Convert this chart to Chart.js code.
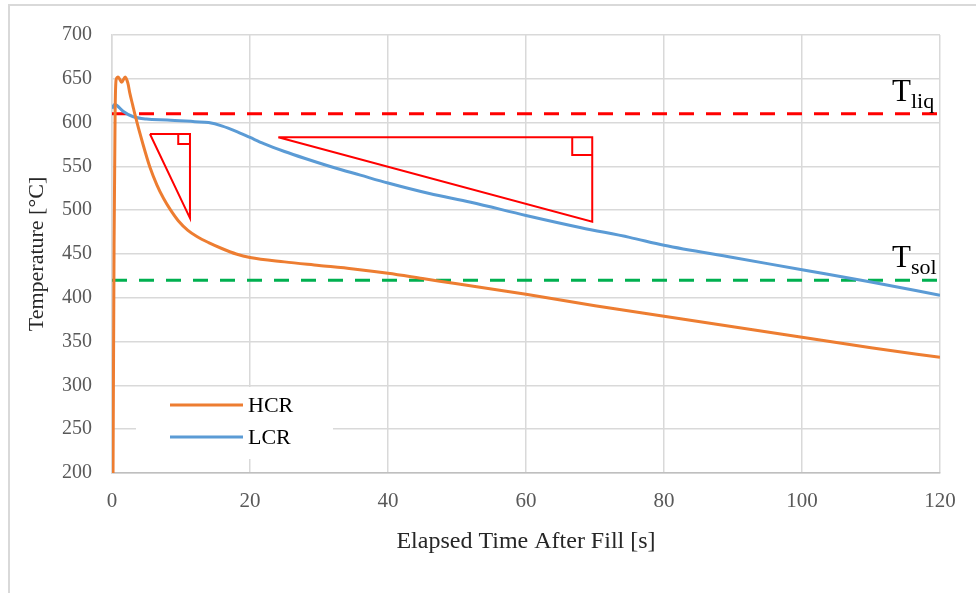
<!DOCTYPE html>
<html>
<head>
<meta charset="utf-8">
<script src="https://cdn.jsdelivr.net/npm/chart.js@4"></script>
<style>
  body { margin: 0; overflow: hidden; background: #fff; }
  #moldura { position: absolute; left: 8px; top: 4px; width: 1200px; height: 900px; border: 2px solid #d9d9d9; }
  #grafico { position: absolute; left: 0; top: 0; }
</style>
</head>
<body>
<div id="moldura"></div>
<canvas id="grafico" width="976" height="593"></canvas>
<script>
// series
var hcr_tempo = [0.15, 0.3, 0.45, 0.6, 0.9, 1.4, 1.9, 2.3, 2.6, 3.0, 3.3, 4.5, 5.5, 6.5, 7.5, 8.5, 9.6, 11, 12.3, 14, 16, 18, 20, 25, 30, 35, 40, 45, 50, 60, 70, 80, 90, 100, 110, 120]
var hcr_temp = [200, 460, 610, 649, 652, 646, 652, 645, 633, 620, 610, 575, 549, 529, 513, 500, 488, 477, 470, 463, 456, 450, 446, 441, 437, 433, 428, 422, 416, 404, 391, 379, 367, 355, 343, 332]

var lcr_tempo = [0, 0.4, 0.8, 1.6, 3, 5, 8, 12, 14, 16, 18, 20, 22, 25, 28, 32, 36, 40, 46, 52, 60, 68, 75, 80, 90, 100, 110, 120]
var lcr_temp = [616, 621, 619, 613, 607, 604, 603, 601, 600, 596, 590, 583, 576, 567, 559, 549, 540, 531, 519, 509, 494, 480, 469, 460, 446, 432, 418, 403]

// liquidus / solidus
var t_liq = 610
var t_sol = 420
var x_limites = [0, 120]

// slope triangles
var tri1_x = [5.5, 11.3, 11.3, 5.5]
var tri1_y = [587, 587, 491, 587]
var quad1_x = [9.6, 9.6, 11.3]
var quad1_y = [587, 575.6, 575.6]
var tri2_x = [24.1, 69.6, 69.6, 24.1]
var tri2_y = [583.2, 583.2, 486.9, 583.2]
var quad2_x = [66.7, 66.7, 69.6]
var quad2_y = [583.2, 563, 563]

function pares(xs, ys){
    var out = []
    for(let i = 0; i < xs.length; i++){
        out.push({x: xs[i], y: ys[i]})
    }
    return out
}

var FONTE = "'Liberation Serif', 'Times New Roman', serif"

function linha_anot(xs, ys, cor, tracejado){
    return {
        label: '',
        data: pares(xs, ys),
        borderColor: cor,
        borderWidth: tracejado ? 3 : 2,
        borderDash: tracejado ? [15, 12] : [],
        pointRadius: 0,
        tension: 0,
        order: 3
    }
}

const legenda_caixa = {
    id: 'legenda_caixa',
    afterDraw(chart){
        const ctx = chart.ctx
        const area = chart.chartArea
        ctx.save()
        ctx.fillStyle = '#ffffff'
        ctx.fillRect(area.left + 24, area.bottom - 86, 197, 72)
        const itens = [chart.data.datasets[0], chart.data.datasets[1]]
        ctx.font = "22px " + FONTE
        ctx.textBaseline = 'middle'
        itens.forEach(function(ds, i){
            let y = area.bottom - 68 + i * 32
            ctx.strokeStyle = ds.borderColor
            ctx.lineWidth = 3
            ctx.beginPath()
            ctx.moveTo(area.left + 58, y)
            ctx.lineTo(area.left + 131, y)
            ctx.stroke()
            ctx.fillStyle = '#000000'
            ctx.fillText(ds.label, area.left + 136, y + 1)
        })

        // T_liq, T_sol
        const xs = chart.scales.x
        const ys = chart.scales.y
        const rotulos = [[t_liq, 'liq'], [t_sol, 'sol']]
        rotulos.forEach(function(r){
            let bx = xs.getPixelForValue(120) - 48
            let by = ys.getPixelForValue(r[0]) - 13
            ctx.textBaseline = 'alphabetic'
            ctx.font = "31px " + FONTE
            ctx.fillText('T', bx, by)
            ctx.font = "22px " + FONTE
            ctx.fillText(r[1], bx + 19, by + 7)
        })
        ctx.restore()
    }
}

const ctx = document.getElementById('grafico').getContext('2d')
const myChart = new Chart(ctx, {
    type: 'line',
    data: {
        datasets: [
            {
                label: 'HCR',
                data: pares(hcr_tempo, hcr_temp),
                borderColor: '#ED7D31',
                borderWidth: 3,
                pointRadius: 0,
                cubicInterpolationMode: 'monotone',
                order: 0
            },
            {
                label: 'LCR',
                data: pares(lcr_tempo, lcr_temp),
                borderColor: '#5B9BD5',
                borderWidth: 3,
                pointRadius: 0,
                cubicInterpolationMode: 'monotone',
                order: 1
            },
            linha_anot(x_limites, [t_liq, t_liq], '#FF0000', true),
            linha_anot(x_limites, [t_sol, t_sol], '#00B050', true),
            linha_anot(tri1_x, tri1_y, '#FF0000', false),
            linha_anot(quad1_x, quad1_y, '#FF0000', false),
            linha_anot(tri2_x, tri2_y, '#FF0000', false),
            linha_anot(quad2_x, quad2_y, '#FF0000', false)
        ]
    },
    options: {
        responsive: false,
        animation: false,
        devicePixelRatio: 1,
        layout: { padding: { top: 35, right: 36, left: 0, bottom: 0 } },
        plugins: {
            legend: { display: false },
            tooltip: { enabled: false }
        },
        scales: {
            x: {
                type: 'linear',
                min: 0,
                max: 120,
                ticks: { stepSize: 20, padding: 16, color: '#595959', font: { family: FONTE, size: 21 } },
                grid: { color: '#d9d9d9', lineWidth: 1.5, drawTicks: false },
                border: { color: '#bfbfbf', width: 1.5 },
                title: {
                    display: true,
                    text: 'Elapsed Time After Fill [s]',
                    color: '#262626',
                    font: { family: FONTE, size: 24 },
                    padding: { top: 0, bottom: 37 }
                },
                afterFit: function(scale){ scale.height = 120 }
            },
            y: {
                min: 200,
                max: 700,
                ticks: { stepSize: 50, padding: 20, color: '#595959', font: { family: FONTE, size: 20 } },
                grid: { color: '#d9d9d9', lineWidth: 1.5, drawTicks: false },
                border: { color: '#d9d9d9', width: 1.5 },
                title: {
                    display: true,
                    text: 'Temperature [°C]',
                    color: '#262626',
                    font: { family: FONTE, size: 22 },
                    padding: { top: 24, bottom: 0 }
                },
                afterFit: function(scale){ scale.width = 112 }
            }
        }
    },
    plugins: [legenda_caixa]
})
</script>
</body>
</html>
